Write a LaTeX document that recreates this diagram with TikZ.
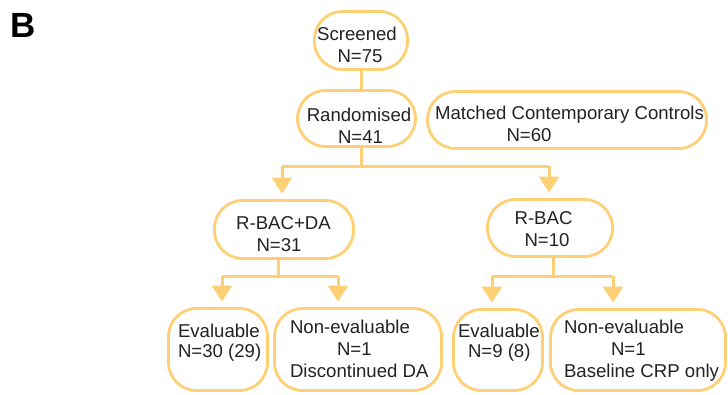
\documentclass[tikz,border=0pt]{standalone}
\usepackage{fontspec}
\setmainfont{Liberation Sans}
\usetikzlibrary{arrows.meta}
\definecolor{boxline}{RGB}{254,208,118}
\definecolor{txt}{RGB}{34,34,34}
\begin{document}
\begin{tikzpicture}[x=1pt,y=-1pt,
  every node/.style={inner sep=0pt,outer sep=0pt},
  pill/.style={draw=boxline,line width=2.8pt,rounded corners=28pt,fill=none},
  tl/.style={text=txt,font=\fontsize{18.6}{22}\selectfont,anchor=base},
  tll/.style={tl,anchor=base west},
  conn/.style={draw=boxline,line width=3pt},
  arr/.style={conn,-{Triangle[width=20pt,length=16pt]},shorten >=7pt}]
\useasboundingbox (0,0) rectangle (728,394);
% label
\node[anchor=base west,text=black,font=\fontsize{35}{40}\selectfont\bfseries] (lab) at (10,37) {B};
% boxes
\node[pill,minimum width=93pt,minimum height=58pt] (scr) at (361,40.5) {};
\node[pill,minimum width=118pt,minimum height=56pt] (rand) at (356.5,118.5) {};
\node[pill,minimum width=279pt,minimum height=57pt] (mcc) at (567,120) {};
\node[pill,minimum width=139pt,minimum height=58pt] (rbd) at (284,229.5) {};
\node[pill,minimum width=125pt,minimum height=57pt] (rb) at (550,228) {};
\node[pill,minimum width=99pt,minimum height=82pt] (ev1) at (218,349.5) {};
\node[pill,minimum width=167pt,minimum height=82pt] (ne1) at (358,349.5) {};
\node[pill,minimum width=89pt,minimum height=81pt] (ev2) at (498,350) {};
\node[pill,minimum width=175pt,minimum height=81pt] (ne2) at (638,350) {};
% texts
\node[tl] (t1a) at (357,40) {Screened};
\node[tl] (t1b) at (360,62) {N=75};
\node[tl] (t2a) at (359,121) {Randomised};
\node[tl] (t2b) at (360.5,143) {N=41};
\node[tl] (t3a) at (569.5,119.5) {Matched Contemporary Controls};
\node[tl] (t3b) at (529,141) {N=60};
\node[tl] (t4a) at (283.5,229) {R-BAC+DA};
\node[tl] (t4b) at (279,251) {N=31};
\node[tl] (t5a) at (543.5,224) {R-BAC};
\node[tl] (t5b) at (547,246) {N=10};
\node[tll] (t6a) at (178,337) {Evaluable};
\node[tll] (t6b) at (178,357) {N=30 (29)};
\node[tll] (t7a) at (290,333) {Non-evaluable};
\node[tll] (t7b) at (337,355) {N=1};
\node[tll] (t7c) at (290,377) {Discontinued DA};
\node[tll] (t8a) at (458,337) {Evaluable};
\node[tll] (t8b) at (468,357) {N=9 (8)};
\node[tll] (t9a) at (564,333) {Non-evaluable};
\node[tll] (t9b) at (611,355) {N=1};
\node[tll] (t9c) at (564,377) {Baseline CRP only};
% junctions
\coordinate (j0) at (361,166);
\coordinate (j0l) at (282,166);
\coordinate (j0r) at (549,166);
\coordinate (j1) at (278,276);
\coordinate (j1l) at (222,276);
\coordinate (j1r) at (338,276);
\coordinate (j2) at (553,276);
\coordinate (j2l) at (492,276);
\coordinate (j2r) at (613,276);
% connectors
\draw[conn] (scr.south -| j0) -- (rand.north -| j0);
\draw[conn] (rand.south -| j0) -- (j0);
\draw[conn] (j0l) -- (j0r);
\draw[arr] (j0l) -- (rbd.north -| j0l);
\draw[arr] (j0r) -- (rb.north -| j0r);
\draw[conn] (rbd.south -| j1) -- (j1);
\draw[conn] (j1l) -- (j1r);
\draw[arr] (j1l) -- (ev1.north -| j1l);
\draw[arr] (j1r) -- (ne1.north -| j1r);
\draw[conn] (rb.south -| j2) -- (j2);
\draw[conn] (j2l) -- (j2r);
\draw[arr] (j2l) -- (ev2.north -| j2l);
\draw[arr] (j2r) -- (ne2.north -| j2r);
\end{tikzpicture}
\end{document}
